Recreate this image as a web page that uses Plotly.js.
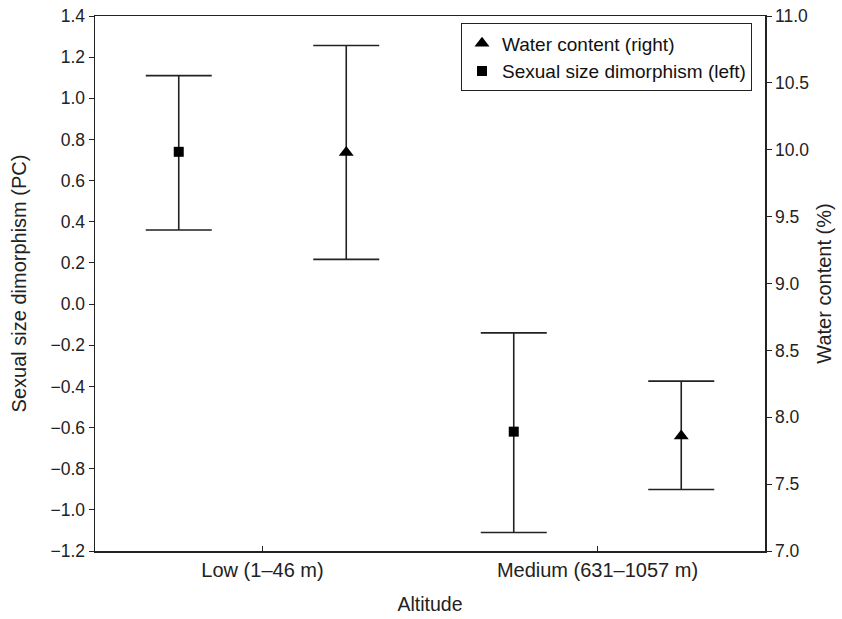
<!DOCTYPE html>
<html>
<head>
<meta charset="utf-8">
<script src="https://cdn.plot.ly/plotly-3.0.1.min.js"></script>
<style>html,body{margin:0;padding:0;background:#fff;}#chart{width:842px;height:619px;}</style>
</head>
<body>
<div id="chart"></div>
<script>
// Data
const categories = ["Low (1\u201346 m)", "Medium (631\u20131057 m)"];
const ssdMean = [0.74, -0.62];
const ssdUpper = [1.11, -0.14];
const ssdLower = [0.36, -1.11];
const waterMean = [9.98, 7.86];
const waterUpper = [10.78, 8.27];
const waterLower = [9.18, 7.46];

const idx = categories.map((c, i) => i);
const offset = 0.25;
const font = "Liberation Sans, Arial, sans-serif";

const waterTrace = {
  x: idx.map(i => i + offset),
  y: waterMean,
  yaxis: "y2",
  type: "scatter",
  mode: "markers",
  name: "Water content (right)",
  marker: {symbol: "triangle-up", size: 13, color: "#000"},
  error_y: {
    type: "data", symmetric: false,
    array: waterMean.map((m, i) => waterUpper[i] - m),
    arrayminus: waterMean.map((m, i) => m - waterLower[i]),
    width: 33, thickness: 1.6, color: "#222"
  }
};
const ssdTrace = {
  x: idx.map(i => i - offset),
  y: ssdMean,
  yaxis: "y",
  type: "scatter",
  mode: "markers",
  name: "Sexual size dimorphism (left)",
  marker: {symbol: "square", size: 10, color: "#000"},
  error_y: {
    type: "data", symmetric: false,
    array: ssdMean.map((m, i) => ssdUpper[i] - m),
    arrayminus: ssdMean.map((m, i) => m - ssdLower[i]),
    width: 33, thickness: 1.6, color: "#222"
  }
};

const layout = {
  width: 842, height: 619,
  margin: {l: 95, r: 77, t: 16, b: 68},
  paper_bgcolor: "#fff", plot_bgcolor: "#fff",
  font: {family: font, size: 18, color: "#222"},
  showlegend: true,
  legend: {
    x: 0.9806, xanchor: "right", y: 0.986, yanchor: "top",
    bordercolor: "#222", borderwidth: 1, bgcolor: "#fff",
    font: {family: font, size: 19, color: "#111"},
    tracegroupgap: 0, itemwidth: 30
  },
  xaxis: {
    range: [-0.5, 1.5],
    tickvals: idx, ticktext: categories,
    ticks: "inside", ticklen: 5, tickcolor: "#222",
    showline: true, linecolor: "#222", linewidth: 1.5, mirror: true,
    showgrid: false, zeroline: false,
    tickfont: {family: font, size: 20, color: "#222"},
    title: {text: "Altitude", font: {family: font, size: 19.5, color: "#222"}, standoff: 18}
  },
  yaxis: {
    range: [-1.2, 1.4], dtick: 0.2, tick0: 0, tickformat: ".1f",
    ticks: "outside", ticklen: 5, tickcolor: "#222",
    showline: true, linecolor: "#222", linewidth: 1.5,
    showgrid: false, zeroline: false,
    tickfont: {family: font, size: 17.5, color: "#222"},
    title: {text: "Sexual size dimorphism (PC)", font: {family: font, size: 20, color: "#222"}, standoff: 18}
  },
  yaxis2: {
    range: [7, 11], dtick: 0.5, tick0: 7, tickformat: ".1f",
    overlaying: "y", side: "right", anchor: "x",
    ticks: "outside", ticklen: 5, tickcolor: "#222",
    showline: true, linecolor: "#222", linewidth: 1.5,
    showgrid: false, zeroline: false,
    tickfont: {family: font, size: 17.5, color: "#222"},
    title: {text: "Water content (%)", font: {family: font, size: 20, color: "#222"}, standoff: 8}
  }
};

Plotly.newPlot("chart", [waterTrace, ssdTrace], layout, {displayModeBar: false, staticPlot: true});
</script>
</body>
</html>
